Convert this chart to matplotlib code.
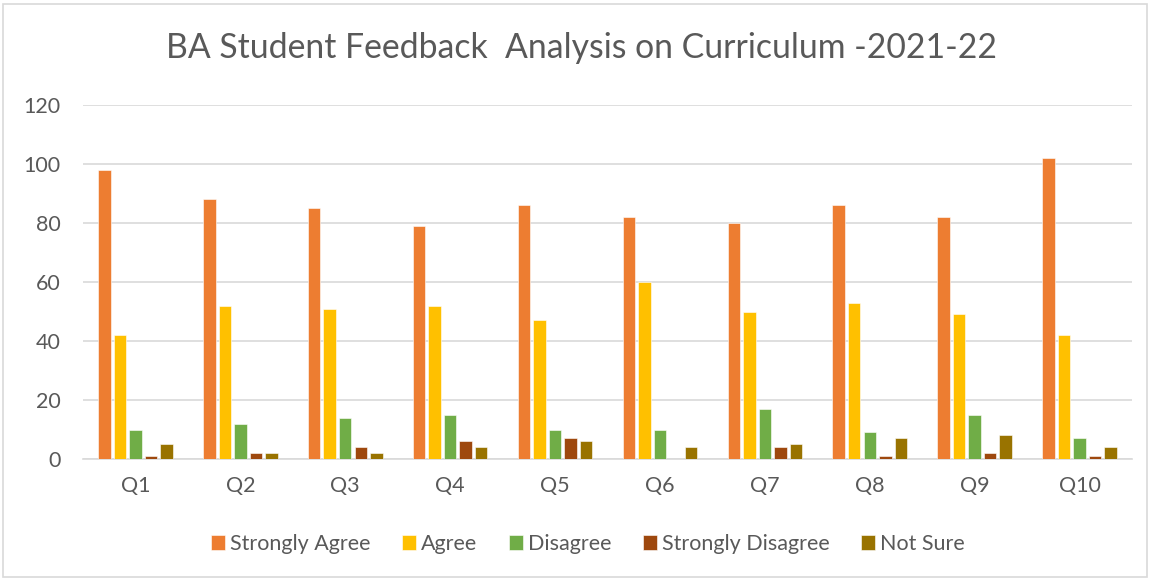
import numpy as np
import matplotlib
matplotlib.use("Agg")
import matplotlib.pyplot as plt
from matplotlib.patches import FancyBboxPatch

plt.rcParams['font.family'] = ['Lato', 'DejaVu Sans']

questions = ['Q1', 'Q2', 'Q3', 'Q4', 'Q5', 'Q6', 'Q7', 'Q8', 'Q9', 'Q10']
strongly_agree = [98, 88, 85, 79, 86, 82, 80, 86, 82, 102]
agree = [42, 52, 51, 52, 47, 60, 50, 53, 49, 42]
disagree = [10, 12, 14, 15, 10, 10, 17, 9, 15, 7]
strongly_disagree = [1, 2, 4, 6, 7, 0, 4, 1, 2, 1]
not_sure = [5, 2, 2, 4, 6, 4, 5, 7, 8, 4]

series = [
    ('Strongly Agree', strongly_agree, '#ED7D31'),
    ('Agree', agree, '#FFC000'),
    ('Disagree', disagree, '#70AD47'),
    ('Strongly Disagree', strongly_disagree, '#9E480E'),
    ('Not Sure', not_sure, '#997300'),
]

fig = plt.figure(figsize=(11.52, 5.8), dpi=100)
ax = fig.add_axes([83 / 1152, 1 - 459 / 580, (1132 - 83) / 1152, (459 - 105) / 580])

# grey frame round the whole chart
fig.patches.append(FancyBboxPatch((3 / 1152, 3 / 580), 1144 / 1152, 573 / 580,
                                  boxstyle='square,pad=0', transform=fig.transFigure,
                                  facecolor='none', edgecolor='#D9D9D9', linewidth=1.2))

x = np.arange(len(questions))
pitch = 0.148
width = 0.119
for i, (name, vals, col) in enumerate(series):
    ax.bar(x + (i - 2) * pitch, vals, width, color=col, label=name,
           edgecolor='white', linewidth=0.4, zorder=3)

ax.set_xlim(-0.5, len(questions) - 0.5)
ax.set_ylim(0, 120)
ax.set_yticks(range(0, 121, 20))
ax.set_xticks(x)
ax.set_xticklabels(questions)
ax.grid(axis='y', color='#D9D9D9', linewidth=1.2, zorder=0)
for s in ['top', 'right', 'left']:
    ax.spines[s].set_visible(False)
ax.spines['bottom'].set_color('#D9D9D9')
ax.spines['bottom'].set_linewidth(1.2)
ax.tick_params(axis='both', length=0, labelsize=15.5, colors='#595959')
ax.tick_params(axis='y', pad=16)
ax.tick_params(axis='x', pad=12)

fig.text(582 / 1152, 1 - 48 / 580, 'BA Student Feedback  Analysis on Curriculum -2021-22',
         ha='center', va='center', fontsize=24.3, color='#595959')

fig.legend(loc='center', bbox_to_anchor=(588 / 1152, 1 - 544 / 580), ncol=5, frameon=False,
           fontsize=15.5, labelcolor='#595959', handlelength=0.65, handleheight=0.65,
           handletextpad=0.25, columnspacing=1.45)

fig.savefig('out.png', dpi=100)
